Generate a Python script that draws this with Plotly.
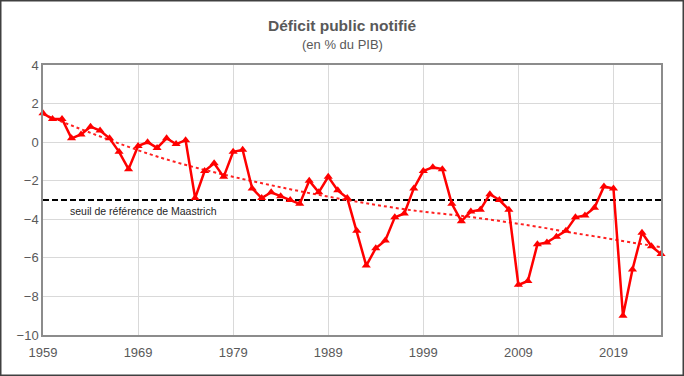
import plotly.graph_objects as go

years = list(range(1959, 2025))
deficit = [1.5, 1.2, 1.2, 0.2, 0.4, 0.8, 0.6, 0.2, -0.5, -1.4,
           -0.2, 0.0, -0.3, 0.2, -0.1, 0.1, -2.9, -1.5, -1.1, -1.8,
           -0.5, -0.4, -2.4, -2.9, -2.6, -2.8, -3.0, -3.2, -2.0, -2.6,
           -1.8, -2.5, -2.9, -4.6, -6.4, -5.5, -5.1, -3.9, -3.7, -2.4,
           -1.5, -1.3, -1.4, -3.2, -4.1, -3.6, -3.5, -2.7, -3.0, -3.5,
           -7.4, -7.2, -5.3, -5.2, -4.9, -4.6, -3.9, -3.8, -3.4, -2.3,
           -2.4, -9.0, -6.6, -4.7, -5.4, -5.8]

trend_years = [1959, 1971.35, 1984, 1996.6, 2003.8, 2010.3, 2014.5, 2024]
trend_values = [1.45, -0.80, -2.34, -3.45, -3.87, -4.33, -4.68, -5.45]

threshold_years = [1959, 2024]
threshold = [-3, -3]
threshold_label = "seuil de référence de Maastrich"

title = "Déficit public notifié"
subtitle = "(en % du PIB)"

FONT = "Liberation Sans, Arial, sans-serif"
GRAY = "#595959"

fig = go.Figure()
fig.add_trace(go.Scatter(x=threshold_years, y=threshold, mode="lines",
                         line=dict(color="black", width=2, dash="6px,3px"),
                         hoverinfo="skip", showlegend=False))
fig.add_trace(go.Scatter(x=trend_years, y=trend_values, mode="lines",
                         line=dict(color="#ff2020", width=2, dash="dot", shape="spline"),
                         hoverinfo="skip", showlegend=False))
fig.add_trace(go.Scatter(x=years, y=deficit, mode="lines+markers",
                         line=dict(color="#ff0000", width=2.5),
                         marker=dict(symbol="triangle-up", size=8, color="#ff0000"),
                         cliponaxis=False, showlegend=False))

L, R, T, B = 43, 661, 65, 335
W, H = R - L, B - T

fig.update_layout(
    width=684, height=376,
    margin=dict(l=L, r=684 - R, t=T, b=376 - B),
    paper_bgcolor="white", plot_bgcolor="white",
    font=dict(family=FONT, size=13, color=GRAY),
    xaxis=dict(range=[1959, 2024], tick0=1959, dtick=10, showgrid=True,
               gridcolor="#d9d9d9", gridwidth=1, showline=True, linecolor="#8c8c8c",
               linewidth=1.5, mirror=True, ticks="", zeroline=False,
               ticklabelstandoff=5,
               tickfont=dict(size=13, color=GRAY)),
    yaxis=dict(range=[-10, 4], dtick=2, showgrid=True, gridcolor="#d9d9d9",
               gridwidth=1, showline=True, linecolor="#8c8c8c", linewidth=1.5,
               mirror=True, ticks="", zeroline=False,
               tickfont=dict(size=13, color=GRAY)),
    annotations=[
        dict(text="<b>" + title + "</b>", xref="paper", yref="paper",
             x=(342 - L) / W, y=(B - 25) / H, xanchor="center", yanchor="middle",
             showarrow=False, font=dict(size=15.5, color=GRAY, family=FONT)),
        dict(text=subtitle, xref="paper", yref="paper",
             x=(342 - L) / W, y=(B - 44) / H, xanchor="center", yanchor="middle",
             showarrow=False, font=dict(size=13, color=GRAY, family=FONT)),
        dict(text=threshold_label, xref="x", yref="y", x=1961.6, y=-3.57,
             xanchor="left", yanchor="middle", showarrow=False,
             font=dict(size=10.5, color="#262626", family=FONT)),
    ],
    shapes=[dict(type="rect", xref="paper", yref="paper",
                 x0=(0.75 - L) / W, x1=(683.25 - L) / W,
                 y0=(B - 375.25) / H, y1=(B - 0.75) / H,
                 line=dict(color="#404040", width=1.5), layer="above")],
)

fig.write_html("out.html", config={"displayModeBar": False},
               post_script="document.body.style.margin='0px';document.body.style.overflow='hidden';")
